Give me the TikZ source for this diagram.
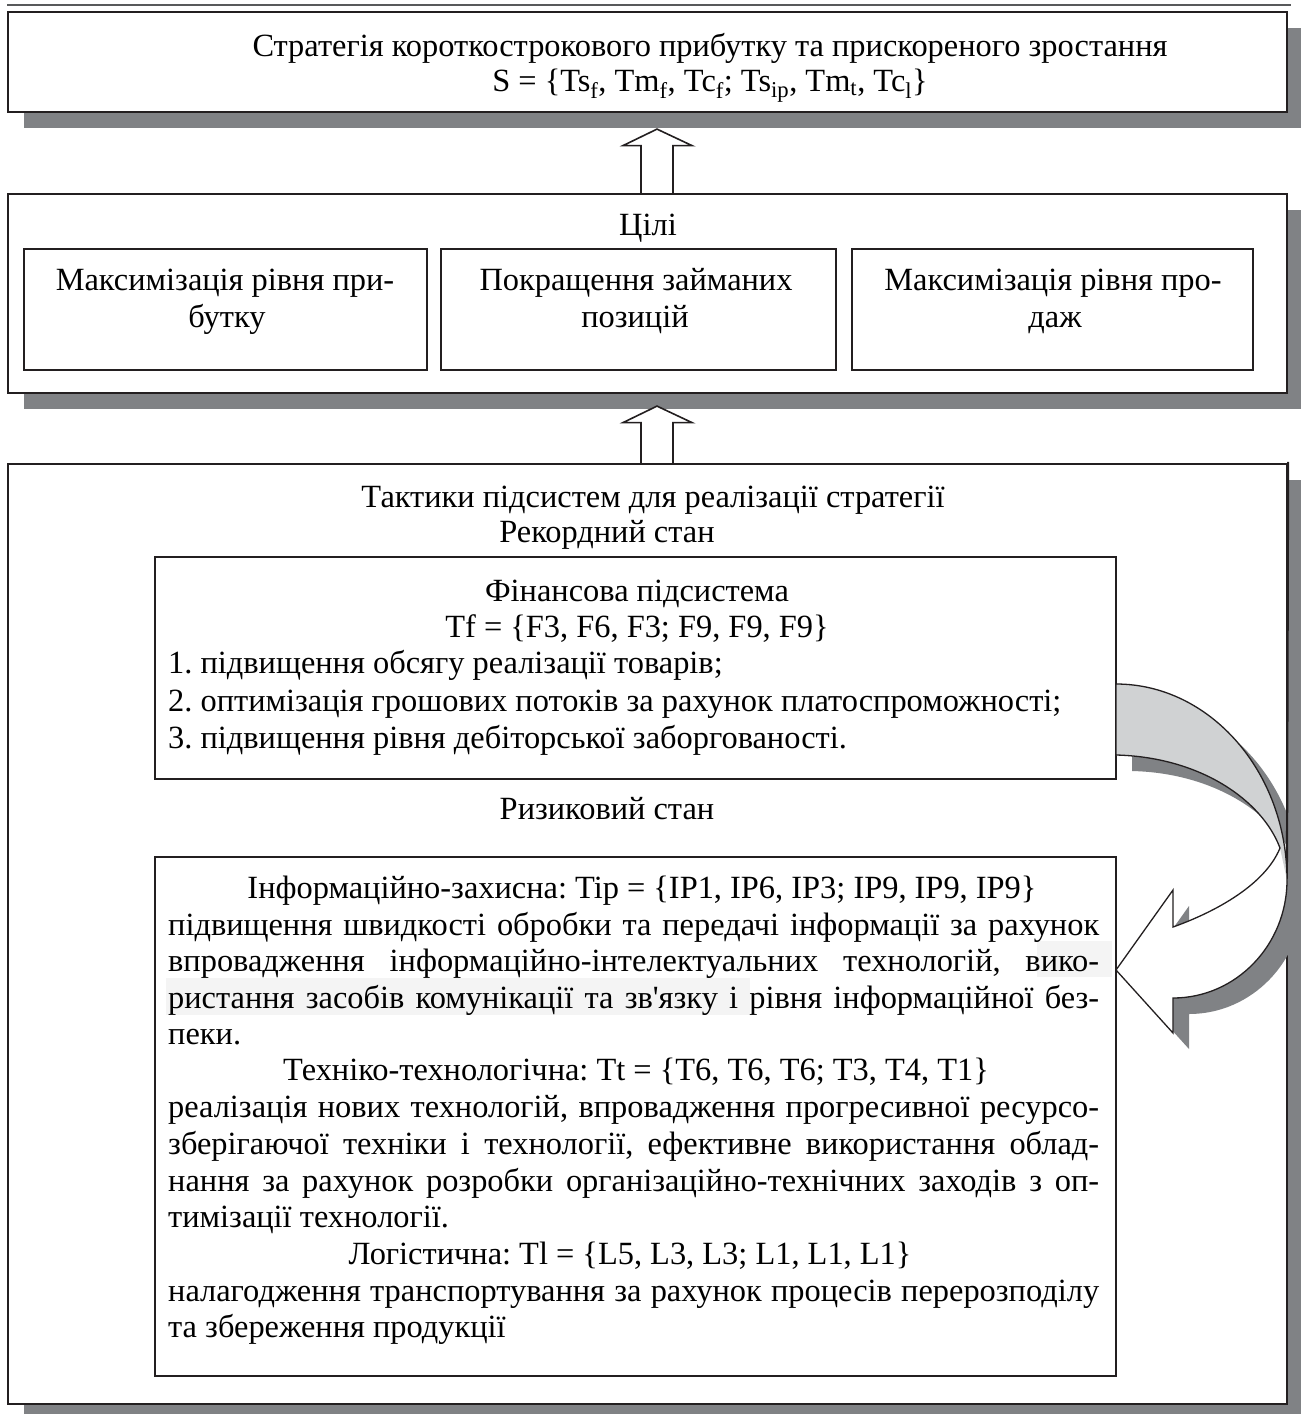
\documentclass[tikz,border=0pt]{standalone}
\usepackage{fontspec}
\setmainfont{Liberation Serif}
\usetikzlibrary{calc,shadows}
\definecolor{shadowgray}{HTML}{808285}
\definecolor{bandgray}{HTML}{D0D2D3}
\definecolor{ink}{HTML}{231F20}
\definecolor{rulegray}{HTML}{58595B}
\definecolor{hilite}{HTML}{F4F4F4}
\newcommand{\jl}[1]{\hbox to 931pt{#1}}
\frenchspacing
\begin{document}
\begin{tikzpicture}[x=1pt,y=-1pt,
 box/.style={draw=ink, line width=2.2pt, fill=white, inner sep=0pt},
 sbox/.style={box, general shadow={fill=shadowgray, shadow xshift=16pt, shadow yshift=-16pt}},
 ibox/.style={draw=ink, line width=1.8pt, fill=white, inner sep=0pt},
 txt/.style={anchor=base, inner sep=0pt, font=\fontsize{32.4}{37}\selectfont},
 ltxt/.style={txt, anchor=base west},
 hollow/.style={draw=ink, line width=1.6pt, fill=white, line join=miter},
 curv/.style={draw=ink, line width=1.3pt, line join=miter},
]
\useasboundingbox (0,0) rectangle (1301,1414);
% top rule
\draw[rulegray, line width=2pt] (7,5) -- (1291,5);

% ---------- box 1 ----------
\node[sbox, minimum width=1279, minimum height=100] (b1) at (647.5,62) {};
\node[txt] (t1a) at (710,56) {Стратегія короткострокового прибутку та прискореного зростання};
\node[txt] (t1b) at (710,91) {S = \{Ts\textsubscript{f}, Tm\textsubscript{f}, Tc\textsubscript{f}; Ts\textsubscript{ip}, Tm\textsubscript{t}, Tc\textsubscript{l}\}};

% ---------- box 2 ----------
\node[sbox, minimum width=1279, minimum height=199] (b2) at (647.5,293.5) {};
\node[txt] (t2) at (648,235) {Цілі};
\node[ibox, minimum width=403, minimum height=121] (g1) at (225.5,309.5) {};
\node[ibox, minimum width=395, minimum height=121] (g2) at (638.5,309.5) {};
\node[ibox, minimum width=401, minimum height=121] (g3) at (1052.5,309.5) {};
\node[txt] (g1a) at (225,290) {Максимізація рівня при-};
\node[txt] (g1b) at (227,327) {бутку};
\node[txt] (g2a) at (636,290) {Покращення займаних};
\node[txt] (g2b) at (635,327) {позицій};
\node[txt] (g3a) at (1053,290) {Максимізація рівня про-};
\node[txt] (g3b) at (1055,327) {даж};

% ---------- box 3 ----------
\node[sbox, minimum width=1279, minimum height=940] (b3) at (647.5,934) {};
\node[txt] (t3a) at (653,507) {Тактики підсистем для реалізації стратегії};
\node[txt] (t3b) at (607,542) {Рекордний стан};

\node[ibox, line width=1.6pt, minimum width=961, minimum height=222] (fin) at (635.5,668) {};
\node[txt] (f1) at (637,601) {Фінансова підсистема};
\node[txt] (f2) at (637,637) {Tf = \{F3, F6, F3; F9, F9, F9\}};
\node[ltxt] (f3) at (168,673) {1. підвищення обсягу реалізації товарів;};
\node[ltxt] (f4) at (168,711) {2. оптимізація грошових потоків за рахунок платоспроможності;};
\node[ltxt] (f5) at (168,748) {3. підвищення рівня дебіторської заборгованості.};

\node[txt] (t3c) at (607,819) {Ризиковий стан};

\node[ibox, line width=1.6pt, minimum width=961, minimum height=519] (risk) at (635.5,1116.5) {};
\fill[hilite] (1037,941) rectangle (1112,977);
\fill[hilite] (166,978) rectangle (750,1015);
\node[txt] (r1) at (642,898) {Інформаційно-захисна: Tip = \{IP1, IP6, IP3; IP9, IP9, IP9\}};
\node[ltxt] (r2) at (168,935) {\jl{підвищення швидкості обробки та передачі інформації за рахунок}};
\node[ltxt] (r3) at (168,971) {\jl{впровадження інформаційно-інтелектуальних технологій, вико-}};
\node[ltxt] (r4) at (168,1008) {\jl{ристання засобів комунікації та зв\textquotesingle язку і рівня інформаційної без-}};
\node[ltxt] (r5) at (168,1044) {пеки.};
\node[txt] (r6) at (636,1080) {Техніко-технологічна: Tt = \{T6, T6, T6; T3, T4, T1\}};
\node[ltxt] (r7) at (168,1117) {\jl{реалізація нових технологій, впровадження прогресивної ресурсо-}};
\node[ltxt] (r8) at (168,1154) {\jl{зберігаючої техніки і технології, ефективне використання облад-}};
\node[ltxt] (r9) at (168,1191) {\jl{нання за рахунок розробки організаційно-технічних заходів з оп-}};
\node[ltxt] (r10) at (168,1227) {тимізації технології.};
\node[txt] (r11) at (630,1264) {Логістична: Tl = \{L5, L3, L3; L1, L1, L1\}};
\node[ltxt] (r12) at (168,1301) {\jl{налагодження транспортування за рахунок процесів перерозподілу}};
\node[ltxt] (r13) at (168,1337) {та збереження продукції};

% ---------- hollow up arrows ----------
\coordinate (a1b) at ($(b2.north)+(9.5,0)$);
\coordinate (a1t) at ($(b1.south)+(9.5,16)$);
\draw[hollow] ($(a1b)+(-16,0)$) -- ($(a1t)+(-16,16.5)$) -- ($(a1t)+(-34,16.5)$) -- (a1t)
  -- ($(a1t)+(35,16.5)$) -- ($(a1t)+(16,16.5)$) -- ($(a1b)+(16,0)$);
\coordinate (a2b) at ($(b3.north)+(9.5,0)$);
\coordinate (a2t) at ($(b2.south)+(9.5,12)$);
\draw[hollow] ($(a2b)+(-16,0)$) -- ($(a2t)+(-16,16.5)$) -- ($(a2t)+(-34,16.5)$) -- (a2t)
  -- ($(a2t)+(35,16.5)$) -- ($(a2t)+(16,16.5)$) -- ($(a2b)+(16,0)$);

% ---------- curved arrow from fin to risk ----------
\def\curvedoutline{(1116,684) .. controls (1210,684) and (1287,772) .. (1287,880)
 .. controls (1287,945) and (1236,998) .. (1173,998)
 -- (1173,1033) -- (1116,970) -- (1173,890) -- (1173,927)
 .. controls (1215,912) and (1265,885) .. (1280,848)
 .. controls (1262,800) and (1200,757) .. (1116,755) -- cycle}
\fill[shadowgray, shift={(16,16)}] \curvedoutline;
\draw[ink, line width=2.2pt] ($(b3.north east)+(0,-1)$) -- (1287,862);
\fill[white] \curvedoutline;
\fill[bandgray] (1116,684) .. controls (1210,684) and (1287,772) .. (1287,880)
 -- (1280,848) .. controls (1262,800) and (1200,757) .. (1116,755) -- cycle;
\draw[curv] \curvedoutline;
\end{tikzpicture}
\end{document}
